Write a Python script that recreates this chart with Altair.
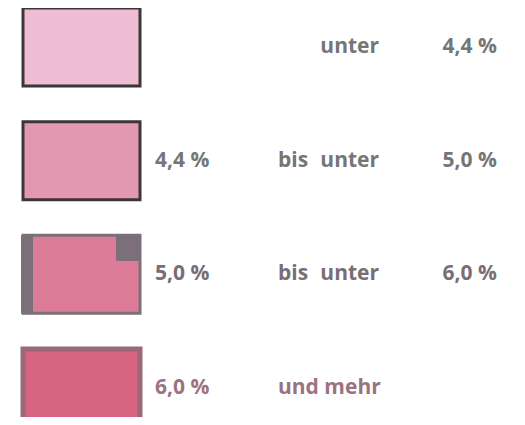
import altair as alt
import pandas as pd

rows = ["r1", "r2", "r3", "r4"]
lower = ["", "4,4 %", "5,0 %", "6,0 %"]
middle_a = ["", "bis", "bis", "und mehr"]
middle_b = ["unter", "unter", "unter", ""]
upper = ["4,4 %", "5,0 %", "6,0 %", ""]
fills = ["#eebdd4", "#e398b1", "#dd7c99", "#d6637f"]
borders = ["#3d3639", "#3d3639", "#7b7079", "#9a6878"]
text_colors = ["#767676", "#767676", "#7a6d75", "#9b7282"]
stroke_widths = [3, 3, 3, 5]

df = pd.DataFrame({
    "row": rows, "lower": lower, "mid_a": middle_a, "mid_b": middle_b,
    "upper": upper, "fill": fills, "border": borders, "tcol": text_colors,
    "sw": stroke_widths,
})

yscale = alt.Scale(type="band", domain=rows, range=[0, 419],
                   paddingInner=0.314, paddingOuter=0)
Y = alt.Y("row:N", scale=yscale, axis=None)
FONT = "Open Sans"
FS = 21

boxes = alt.Chart(df).mark_rect().encode(
    y=Y,
    x=alt.value(15), x2=alt.value(132),
    fill=alt.Fill("fill:N", scale=None),
    stroke=alt.Stroke("border:N", scale=None),
    strokeWidth=alt.StrokeWidth("sw:Q", scale=None),
)

# special thick grey framing of the third swatch
df3 = df[df.row == "r3"]
frame_left = alt.Chart(df3).mark_rect(color="#7b7079").encode(
    y=Y, x=alt.value(13), x2=alt.value(25))
notch = alt.Chart(df3).mark_rect(color="#7b7079").encode(
    y=alt.Y("row:N", scale=yscale, axis=None, bandPosition=0),
    y2=alt.value(253),
    x=alt.value(108), x2=alt.value(133))

def txt(field, x, align):
    return alt.Chart(df).mark_text(
        font=FONT, fontSize=FS, fontWeight="bold", align=align, baseline="middle",
    ).encode(y=Y, x=alt.value(x), text=f"{field}:N",
             color=alt.Color("tcol:N", scale=None))

chart = alt.layer(
    boxes, frame_left, notch,
    txt("lower", 147, "left"),
    txt("mid_a", 270, "left"),
    txt("mid_b", 371, "right"),
    txt("upper", 489, "right"),
).properties(
    width=509, height=409, padding=0,
    autosize=alt.AutoSizeParams(type="none"),
).configure_view(stroke=None)

chart.save("out.html", embed_options={"renderer": "svg", "actions": False})
